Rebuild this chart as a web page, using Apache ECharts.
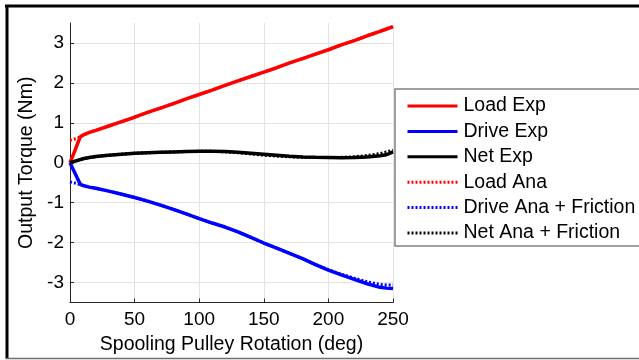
<!DOCTYPE html>
<html>
<head>
<meta charset="utf-8">
<script src="https://cdn.jsdelivr.net/npm/echarts@6/dist/echarts.min.js"></script>
<style>
  html, body { margin: 0; padding: 0; background: #fff; }
  #chart { width: 639px; height: 360px; }
</style>
</head>
<body>
<div id="chart"></div>
<script>
var rotation = [0, 2, 4, 6, 8, 10, 15, 20, 30, 40, 50, 60, 70, 80, 90, 100, 110, 120, 130, 140, 150, 160, 170, 180, 190, 200, 210, 220, 230, 240, 245, 250];

var loadExp = [0, 0.16, 0.32, 0.49, 0.65, 0.69, 0.76, 0.81, 0.92, 1.03, 1.14, 1.26, 1.37, 1.48, 1.60, 1.71, 1.82, 1.94, 2.05, 2.16, 2.27, 2.38, 2.50, 2.61, 2.72, 2.83, 2.95, 3.06, 3.18, 3.29, 3.35, 3.41];
var driveExp = [0, -0.14, -0.27, -0.41, -0.54, -0.57, -0.61, -0.64, -0.71, -0.79, -0.87, -0.96, -1.06, -1.17, -1.28, -1.40, -1.51, -1.61, -1.73, -1.87, -2.01, -2.14, -2.27, -2.40, -2.55, -2.69, -2.81, -2.92, -3.03, -3.12, -3.14, -3.15];
var netExp = [0, 0.02, 0.04, 0.06, 0.08, 0.10, 0.13, 0.155, 0.19, 0.215, 0.235, 0.25, 0.26, 0.27, 0.28, 0.285, 0.285, 0.28, 0.26, 0.24, 0.215, 0.19, 0.165, 0.145, 0.135, 0.13, 0.125, 0.13, 0.145, 0.175, 0.20, 0.27];
var loadAna = [0.56, 0.58, 0.60, 0.62, 0.65, 0.69, 0.76, 0.81, 0.92, 1.03, 1.14, 1.26, 1.37, 1.48, 1.60, 1.71, 1.82, 1.94, 2.05, 2.16, 2.27, 2.38, 2.50, 2.61, 2.72, 2.83, 2.95, 3.06, 3.18, 3.29, 3.35, 3.41];
var driveAna = [-0.48, -0.50, -0.51, -0.53, -0.54, -0.57, -0.61, -0.64, -0.71, -0.79, -0.87, -0.96, -1.06, -1.17, -1.28, -1.40, -1.51, -1.61, -1.73, -1.87, -2.01, -2.14, -2.27, -2.40, -2.55, -2.68, -2.79, -2.89, -2.98, -3.05, -3.06, -3.06];
var netAna = [0, 0.02, 0.04, 0.06, 0.08, 0.10, 0.13, 0.155, 0.19, 0.215, 0.235, 0.25, 0.26, 0.27, 0.28, 0.285, 0.285, 0.275, 0.25, 0.22, 0.19, 0.165, 0.15, 0.135, 0.13, 0.13, 0.135, 0.15, 0.18, 0.23, 0.27, 0.31];

var yTicks = [-3, -2, -1, 0, 1, 2, 3];
var seriesNames = ['Load Exp', 'Drive Exp', 'Net Exp', 'Load Ana', 'Drive Ana + Friction', 'Net Ana + Friction'];

var font = "'Liberation Sans', Arial, sans-serif";

function pairs(values) {
  return rotation.map(function(x, i) { return [x, values[i]]; });
}

function line(name, values, color, dotted) {
  return {
    name: name,
    type: 'line',
    data: pairs(values),
    symbol: 'none',
    smooth: false,
    lineStyle: { color: color, width: dotted ? 3 : 3.5, type: dotted ? [2, 2] : 'solid' },
    itemStyle: { color: color },
    z: dotted ? 3 : 2
  };
}

var chart = echarts.init(document.getElementById('chart'), null, { renderer: 'canvas' });
chart.setOption({
  animation: false,
  backgroundColor: '#fff',
  textStyle: { fontFamily: font },
  grid: { left: 70, right: 246, top: 23, bottom: 57.5 },
  xAxis: {
    type: 'value',
    min: 0,
    max: 250,
    interval: 50,
    name: 'Spooling Pulley Rotation (deg)',
    nameLocation: 'middle',
    nameGap: 30,
    nameTextStyle: { color: '#000', fontSize: 19.5, fontFamily: font },
    axisLine: { onZero: false, lineStyle: { color: '#262626', width: 1 } },
    axisTick: { inside: true, length: 4, lineStyle: { color: '#262626' } },
    axisLabel: { color: '#000', fontSize: 19, fontFamily: font, margin: 8 },
    splitLine: { show: true, lineStyle: { color: '#e3e3e3', width: 1 } }
  },
  yAxis: {
    type: 'value',
    min: -3.5,
    max: 3.5,
    interval: 0.5,
    name: 'Output Torque (Nm)',
    nameLocation: 'middle',
    nameGap: 31,
    nameTextStyle: { color: '#000', fontSize: 19.5, fontFamily: font },
    axisLine: { show: true, onZero: false, lineStyle: { color: '#262626', width: 1 } },
    axisTick: { show: true, inside: true, length: 4, customValues: yTicks, lineStyle: { color: '#262626' } },
    axisLabel: { color: '#000', fontSize: 19, fontFamily: font, margin: 6, customValues: yTicks },
    splitLine: { show: true, lineStyle: { color: '#e3e3e3', width: 1 } }
  },
  legend: {
    orient: 'vertical',
    left: 395,
    top: 91,
    data: seriesNames,
    itemWidth: 50,
    itemHeight: 20,
    itemGap: 5.4,
    padding: [5, 5, 5, 11],
    borderWidth: 0,
    backgroundColor: 'transparent',
    itemStyle: { opacity: 0 },
    lineStyle: { width: 3 },
    textStyle: { color: '#000', fontSize: 19.5, fontFamily: font, padding: [0, 0, 0, 1] }
  },
  graphic: [
    { type: 'rect', shape: { x: 395, y: 89, width: 270, height: 157 }, style: { fill: '#fff', stroke: '#808080', lineWidth: 1.5 }, z: 0 },
    { type: 'line', shape: { x1: 5, y1: 6, x2: 639, y2: 6 }, style: { stroke: '#000', lineWidth: 3 } },
    { type: 'line', shape: { x1: 7, y1: 5, x2: 7, y2: 359 }, style: { stroke: '#000', lineWidth: 3 } },
    { type: 'line', shape: { x1: 6, y1: 358.5, x2: 639, y2: 358.5 }, style: { stroke: '#6e6e6e', lineWidth: 1.5 } }
  ],
  series: [
    line(seriesNames[0], loadExp, '#ff0000', false),
    line(seriesNames[1], driveExp, '#0000ff', false),
    line(seriesNames[2], netExp, '#000000', false),
    line(seriesNames[3], loadAna, '#ff0000', true),
    line(seriesNames[4], driveAna, '#0000ff', true),
    line(seriesNames[5], netAna, '#000000', true)
  ]
});
window.addEventListener('resize', function() { chart.resize(); });
</script>
</body>
</html>
